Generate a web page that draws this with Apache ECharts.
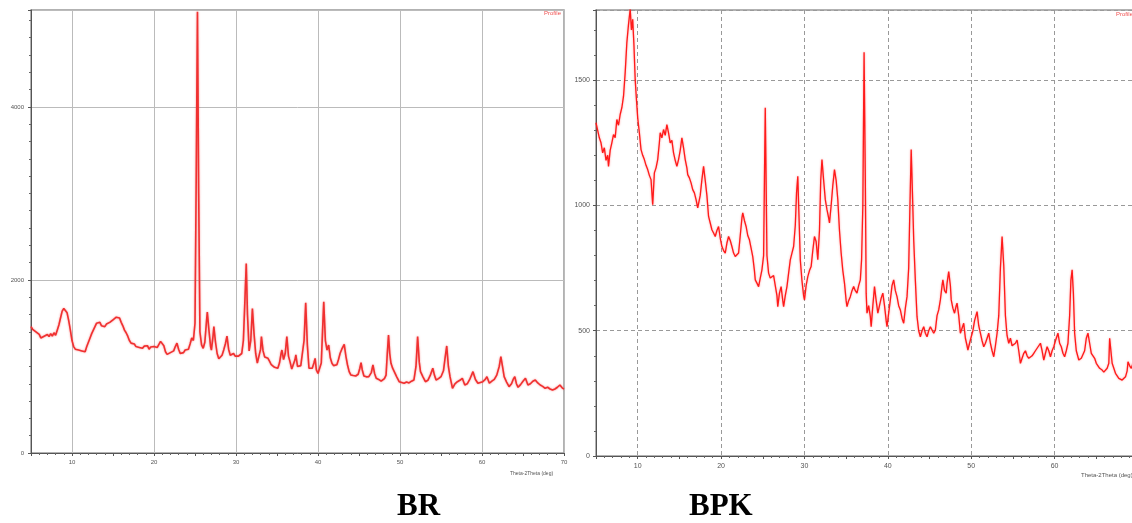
<!DOCTYPE html>
<html><head><meta charset="utf-8">
<script src="https://cdn.jsdelivr.net/npm/echarts@6/dist/echarts.min.js"></script>
<style>html,body{margin:0;padding:0;background:#fff}#c{width:1132px;height:523px}</style>
</head><body><div id="c"></div>
<script>
// BR pattern: [2theta, intensity]
const brData = [
[5.0,1460],[5.2,1430],[5.4,1445],[5.6,1400],[5.8,1420],[6.0,1370],[6.2,1330],[6.4,1310],[6.6,1350],[6.8,1330],
[7.0,1370],[7.2,1345],[7.4,1380],[7.6,1350],[7.8,1390],[8.0,1360],[8.2,1420],[8.4,1480],[8.6,1560],[8.8,1640],
[9.0,1670],[9.2,1680],[9.4,1620],[9.6,1530],[9.8,1420],[10.0,1300],[10.2,1230],[10.4,1200],[10.6,1215],[10.8,1190],
[11.0,1210],[11.2,1180],[11.4,1200],[11.6,1170],[11.8,1230],[12.0,1280],[12.2,1330],[12.4,1380],[12.6,1420],[12.8,1460],
[13.0,1500],[13.2,1480],[13.4,1510],[13.6,1470],[13.8,1490],[14.0,1460],[14.2,1490],[14.4,1470],[14.6,1510],[14.8,1500],
[15.0,1540],[15.2,1520],[15.4,1570],[15.6,1550],[15.8,1560],[16.0,1510],[16.2,1470],[16.4,1420],[16.6,1390],[16.8,1350],
[17.0,1300],[17.2,1270],[17.4,1250],[17.6,1260],[17.8,1230],[18.0,1250],[18.2,1220],[18.4,1240],[18.6,1210],[18.8,1235],
[19.0,1215],[19.2,1240],[19.4,1200],[19.6,1225],[19.8,1205],[20.0,1230],[20.2,1210],[20.4,1220],[20.6,1240],[20.8,1290],
[21.0,1300],[21.2,1240],[21.4,1170],[21.6,1140],[21.8,1130],[22.0,1160],[22.2,1140],[22.4,1180],[22.6,1230],[22.8,1270],
[23.0,1200],[23.2,1150],[23.4,1130],[23.6,1160],[23.8,1190],[24.0,1170],[24.2,1200],[24.4,1260],[24.6,1330],[24.8,1300],
[25.0,1500],[25.15,3200],[25.3,5100],[25.45,3000],[25.6,1400],[25.8,1250],[26.0,1210],[26.2,1280],[26.4,1520],[26.5,1630],
[26.7,1420],[26.9,1230],[27.0,1190],[27.2,1350],[27.3,1460],[27.5,1280],[27.7,1150],[27.9,1090],[28.1,1080],[28.3,1130],
[28.5,1190],[28.7,1260],[28.9,1350],[29.1,1200],[29.3,1130],[29.5,1150],[29.7,1150],[29.9,1120],[30.1,1110],[30.3,1120],
[30.5,1135],[30.7,1150],[30.9,1300],[31.1,1800],[31.25,2190],[31.4,1600],[31.6,1180],[31.8,1300],[32.0,1670],[32.2,1380],
[32.4,1150],[32.6,1040],[32.8,1030],[33.0,1200],[33.1,1345],[33.3,1180],[33.5,1110],[33.7,1100],[33.9,1095],[34.1,1060],
[34.3,1020],[34.5,1000],[34.7,990],[34.9,985],[35.1,980],[35.3,1040],[35.5,1150],[35.6,1190],[35.8,1080],[36.0,1150],
[36.2,1345],[36.4,1120],[36.6,1050],[36.8,970],[37.0,960],[37.2,1080],[37.3,1133],[37.5,1000],[37.7,980],[37.9,1010],
[38.1,1030],[38.3,1300],[38.5,1737],[38.7,1250],[38.9,980],[39.1,975],[39.3,980],[39.5,1040],[39.65,1094],[39.8,960],
[40.0,920],[40.2,980],[40.4,1040],[40.55,1400],[40.7,1749],[40.9,1300],[41.1,1190],[41.3,1248],[41.5,1100],[41.7,1037],
[41.9,1010],[42.1,998],[42.3,1020],[42.5,1080],[42.7,1152],[42.9,1200],[43.2,1256],[43.4,1120],[43.6,1017],[43.8,940],
[44.0,902],[44.3,895],[44.6,890],[44.9,910],[45.1,980],[45.25,1044],[45.4,960],[45.6,890],[45.9,880],[46.2,882],
[46.5,930],[46.7,1017],[46.9,920],[47.1,863],[47.4,850],[47.7,830],[47.9,824],[48.1,860],[48.3,900],[48.45,1150],
[48.6,1364],[48.75,1150],[48.9,1037],[49.1,980],[49.3,940],[49.6,880],[49.9,824],[50.2,815],[50.5,806],[50.8,820],
[51.1,810],[51.4,830],[51.7,844],[51.95,1000],[52.15,1345],[52.35,1050],[52.5,940],[52.8,880],[53.1,824],[53.4,840],
[53.7,900],[54.0,979],[54.2,900],[54.4,844],[54.7,860],[55.0,882],[55.3,950],[55.5,1100],[55.7,1237],[55.9,1000],
[56.1,882],[56.4,748],[56.7,800],[57.0,824],[57.3,840],[57.6,863],[57.9,786],[58.2,800],[58.5,850],[58.9,940],
[59.2,850],[59.5,806],[59.8,815],[60.1,824],[60.4,850],[60.6,882],[60.9,806],[61.2,830],[61.5,850],[61.8,900],
[62.1,1000],[62.3,1113],[62.5,1000],[62.7,882],[63.0,820],[63.3,767],[63.6,800],[63.8,850],[64.0,882],[64.2,800],
[64.4,759],[64.7,790],[65.0,830],[65.3,863],[65.6,786],[65.9,800],[66.2,830],[66.5,844],[66.8,810],[67.1,786],
[67.4,770],[67.7,748],[68.0,760],[68.3,740],[68.6,728],[68.9,740],[69.2,760],[69.5,786],[69.8,750],[70.0,740]
];
// BPK pattern: [2theta, intensity]
const bpkData = [
[5.0,1330],[5.2,1300],[5.4,1270],[5.6,1250],[5.8,1210],[6.0,1230],[6.2,1180],[6.4,1200],[6.5,1156],[6.7,1220],
[6.9,1250],[7.1,1283],[7.3,1270],[7.5,1343],[7.7,1320],[7.9,1363],[8.1,1390],[8.3,1436],[8.5,1530],[8.7,1650],
[8.9,1723],[9.1,1783],[9.25,1700],[9.4,1743],[9.55,1640],[9.7,1503],[9.85,1423],[10.0,1350],[10.2,1290],[10.4,1223],
[10.6,1200],[10.8,1183],[11.0,1160],[11.2,1143],[11.4,1120],[11.6,1103],[11.8,1003],[12.0,1130],[12.2,1150],[12.4,1183],
[12.6,1250],[12.7,1290],[12.9,1270],[13.1,1303],[13.3,1280],[13.5,1323],[13.7,1290],[13.9,1250],[14.1,1260],[14.3,1210],
[14.5,1180],[14.7,1156],[14.9,1183],[15.1,1220],[15.3,1270],[15.5,1230],[15.7,1183],[15.9,1150],[16.0,1123],[16.2,1110],
[16.4,1090],[16.6,1063],[16.8,1050],[17.0,1023],[17.2,990],[17.3,983],[17.5,1040],[17.7,1103],[17.9,1156],[18.1,1100],
[18.3,1040],[18.5,956],[18.7,930],[18.9,903],[19.1,890],[19.3,876],[19.5,900],[19.7,916],[19.9,870],[20.1,836],
[20.3,820],[20.5,810],[20.7,850],[20.9,876],[21.1,860],[21.3,836],[21.5,810],[21.7,796],[21.9,800],[22.1,810],
[22.3,880],[22.5,950],[22.6,970],[22.8,940],[23.0,916],[23.2,880],[23.4,863],[23.6,830],[23.8,796],[24.0,740],
[24.1,703],[24.3,690],[24.5,676],[24.7,710],[24.9,743],[25.1,800],[25.2,1100],[25.3,1390],[25.4,1100],[25.5,800],
[25.7,730],[25.9,710],[26.1,703],[26.3,720],[26.5,716],[26.7,640],[26.8,596],[27.0,650],[27.2,676],[27.4,620],
[27.5,596],[27.7,640],[27.9,676],[28.1,730],[28.3,783],[28.5,810],[28.7,836],[28.9,920],[29.05,1050],[29.2,1116],
[29.35,950],[29.5,783],[29.7,700],[29.9,640],[30.0,623],[30.2,680],[30.4,716],[30.6,740],[30.8,756],[31.0,820],
[31.2,876],[31.4,856],[31.6,783],[31.8,900],[31.95,1100],[32.1,1183],[32.3,1100],[32.5,1023],[32.7,983],[32.9,950],
[33.0,930],[33.2,1000],[33.4,1080],[33.6,1143],[33.8,1100],[34.0,1023],[34.2,900],[34.4,810],[34.6,740],[34.8,690],
[35.0,620],[35.1,596],[35.3,620],[35.5,636],[35.7,660],[35.9,676],[36.1,660],[36.3,650],[36.5,680],[36.7,703],
[36.85,783],[37.0,1000],[37.15,1611],[37.3,1100],[37.4,650],[37.5,570],[37.7,600],[37.9,556],[38.0,516],[38.2,600],
[38.4,676],[38.6,620],[38.8,570],[39.0,600],[39.2,630],[39.4,650],[39.6,600],[39.8,540],[39.9,516],[40.1,570],
[40.3,623],[40.5,680],[40.7,703],[40.9,660],[41.1,636],[41.3,600],[41.5,583],[41.7,550],[41.9,530],[42.1,590],
[42.3,636],[42.5,750],[42.65,1000],[42.8,1223],[42.95,1050],[43.1,863],[43.3,700],[43.5,556],[43.7,500],[43.9,476],
[44.1,500],[44.3,516],[44.5,490],[44.7,476],[44.9,500],[45.1,516],[45.3,510],[45.5,490],[45.7,503],[45.9,560],
[46.1,583],[46.3,623],[46.5,680],[46.6,703],[46.8,660],[47.0,650],[47.1,690],[47.3,736],[47.5,680],[47.6,623],
[47.8,590],[48.0,570],[48.2,600],[48.3,610],[48.5,560],[48.7,490],[48.9,510],[49.1,530],[49.3,470],[49.5,440],
[49.6,423],[49.8,450],[50.0,476],[50.2,500],[50.4,540],[50.7,576],[50.9,520],[51.1,490],[51.3,460],[51.5,436],
[51.7,450],[51.9,470],[52.1,490],[52.3,450],[52.5,420],[52.7,396],[52.9,440],[53.1,490],[53.3,560],[53.5,750],
[53.7,876],[53.9,760],[54.1,560],[54.3,480],[54.5,450],[54.7,470],[54.9,440],[55.1,436],[55.3,450],[55.5,463],
[55.7,420],[55.9,370],[56.1,390],[56.3,410],[56.5,420],[56.7,400],[56.9,390],[57.1,383],[57.3,400],[57.5,410],
[57.7,420],[57.9,430],[58.1,440],[58.3,450],[58.5,420],[58.7,383],[58.9,410],[59.1,436],[59.3,420],[59.5,396],
[59.7,420],[59.9,436],[60.1,460],[60.4,490],[60.6,450],[60.8,436],[61.0,410],[61.2,396],[61.4,420],[61.6,450],
[61.8,560],[61.95,700],[62.1,743],[62.25,650],[62.4,490],[62.6,420],[62.9,383],[63.2,390],[63.4,383],[63.6,420],
[63.8,470],[64.0,490],[64.2,450],[64.4,410],[64.6,400],[64.8,390],[65.0,370],[65.2,360],[65.4,350],[65.7,343],
[65.9,335],[66.1,330],[66.3,350],[66.5,370],[66.6,470],[66.75,420],[66.9,370],[67.1,350],[67.3,330],[67.5,320],
[67.7,310],[67.9,315],[68.1,303],[68.3,310],[68.5,316],[68.7,340],[68.8,376],[69.0,360],[69.2,350],[69.4,370],[69.6,360]
];
const xRange = [5, 70];
const brYMax = 5120, brYStep = 2000;
const bpkYMax = 1780, bpkYStep = 500;
const panelNames = ['BR', 'BPK'];
const profileLabel = 'Profile';
const xAxisName = 'Theta-2Theta (deg)';

const chart = echarts.init(document.getElementById('c'), null, {renderer: 'canvas'});
function xAxisCfg(gridIndex, gridColor, dashed, fs, margin) {
  return {
    type: 'value', gridIndex, min: xRange[0], max: xRange[1], interval: 5,
    axisLine: {show: true, lineStyle: {color: '#555', width: 1}},
    axisTick: {show: true, length: 3, lineStyle: {color: '#555'}},
    minorTick: {show: true, splitNumber: 5, length: 2, lineStyle: {color: '#666'}},
    axisLabel: {fontSize: fs, color: '#555', margin, hideOverlap: false,
      formatter: v => (v % 10 === 0 ? String(v) : '')},
    splitLine: {show: true, lineStyle: {color: ['rgba(0,0,0,0)', gridColor], width: 1, type: dashed ? [4, 3] : 'solid'}},
    minorSplitLine: {show: false}
  };
}
function yAxisCfg(gridIndex, max, step, minorN, gridColor, dashed, fs, margin) {
  return {
    type: 'value', gridIndex, min: 0, max, interval: step,
    axisLine: {show: true, lineStyle: {color: '#555', width: 1}},
    axisTick: {show: true, length: 3, lineStyle: {color: '#555'}},
    minorTick: {show: true, splitNumber: minorN, length: 2, lineStyle: {color: '#666'}},
    axisLabel: {fontSize: fs, color: '#555', margin,
      formatter: v => (v % step === 0 ? String(v) : '')},
    splitLine: {show: true, lineStyle: {color: gridColor, width: 1, type: dashed ? [4, 3] : 'solid'}}
  };
}
chart.setOption({
  animation: false,
  backgroundColor: '#fff',
  grid: [
    {left: 31, width: 533, top: 10, bottom: 70, show: true, borderColor: '#999', borderWidth: 1.5, outerBoundsMode: 'none', containLabel: false},
    {left: 596, width: 542, top: 10, bottom: 67, show: true, borderColor: '#999', borderWidth: 1.5, outerBoundsMode: 'none', containLabel: false}
  ],
  xAxis: [xAxisCfg(0, '#bbb', false, 6, 6), xAxisCfg(1, '#999', true, 7, 7)],
  yAxis: [yAxisCfg(0, brYMax, brYStep, 10, '#bbb', false, 6, 7), yAxisCfg(1, bpkYMax, bpkYStep, 5, '#999', true, 7, 6)],
  series: [
    {type: 'line', xAxisIndex: 0, yAxisIndex: 0, data: brData, showSymbol: false, symbol: 'none',
      lineStyle: {color: '#f03030', width: 1.6, shadowColor: 'rgba(240,60,60,0.6)', shadowBlur: 2}, clip: true},
    {type: 'line', xAxisIndex: 1, yAxisIndex: 1, data: bpkData, showSymbol: false, symbol: 'none',
      lineStyle: {color: '#ff1a1a', width: 1.3, shadowColor: 'rgba(255,40,40,0.5)', shadowBlur: 2}, clip: true}
  ],
  graphic: [
    {type: 'text', left: 544, top: 10, style: {text: profileLabel, fill: '#f05050', font: '6px Arial'}},
    {type: 'text', left: 1116, top: 11, style: {text: profileLabel, fill: '#f05050', font: '6px Arial'}},
    {type: 'text', left: 510, top: 471, style: {text: xAxisName, fill: '#555', font: '5px Arial'}},
    {type: 'text', left: 1081, top: 472, style: {text: xAxisName, fill: '#555', font: '6px Arial'}},
    {type: 'text', left: 397, top: 491, style: {text: panelNames[0], fill: '#000', font: 'bold 31px "Liberation Serif", serif'}},
    {type: 'text', left: 689, top: 491, style: {text: panelNames[1], fill: '#000', font: 'bold 31px "Liberation Serif", serif'}}
  ]
});
</script></body></html>
